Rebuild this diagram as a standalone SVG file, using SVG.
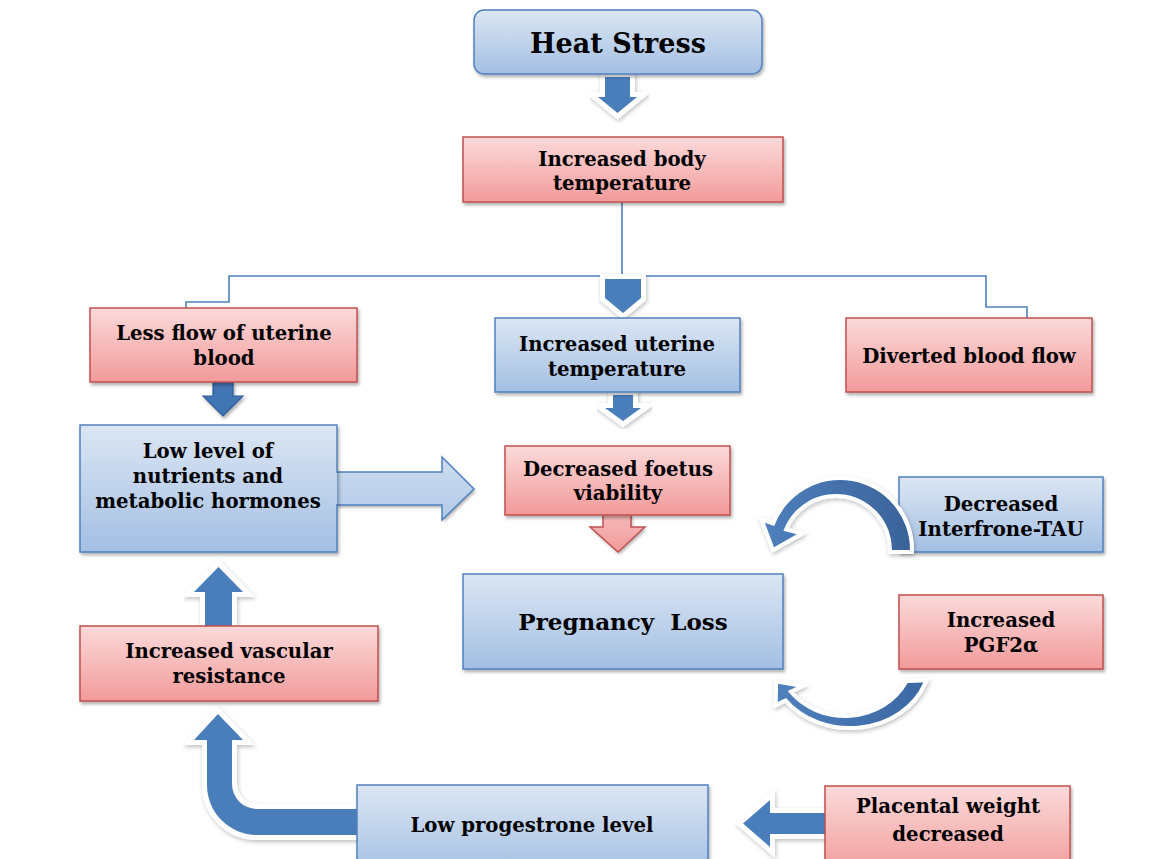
<svg xmlns="http://www.w3.org/2000/svg" xmlns:xlink="http://www.w3.org/1999/xlink" width="1165" height="859" viewBox="0 0 1165 859">
<style>
.t{font-family:"DejaVu Serif","Liberation Serif",serif;font-weight:bold;font-size:19.7px;fill:#000;text-anchor:middle}
.bb{fill:url(#gb);stroke:#4f81bd;stroke-width:1.5}
.pb{fill:url(#gp);stroke:#c0504d;stroke-width:1.5}
.ln{fill:none;stroke:#4f81bd;stroke-width:1.6}
.wo{fill:#fff;stroke:#fff;stroke-width:10;stroke-linejoin:miter;stroke-miterlimit:10;filter:url(#sh2)}
.bf{fill:#4a7ebb}
</style>
<defs>
<linearGradient id="gb" x1="0" y1="0" x2="0" y2="1"><stop offset="0" stop-color="#dce6f3"/><stop offset="1" stop-color="#a3bfe3"/></linearGradient>
<linearGradient id="gp" x1="0" y1="0" x2="0" y2="1"><stop offset="0" stop-color="#fbdada"/><stop offset="1" stop-color="#f29a9a"/></linearGradient>
<linearGradient id="gba" gradientUnits="userSpaceOnUse" x1="0" y1="425" x2="0" y2="552"><stop offset="0" stop-color="#dce6f3"/><stop offset="1" stop-color="#a3bfe3"/></linearGradient>
<linearGradient id="gpa" gradientUnits="userSpaceOnUse" x1="0" y1="515" x2="0" y2="552"><stop offset="0" stop-color="#f6b9b9"/><stop offset="1" stop-color="#f29a9a"/></linearGradient>
<linearGradient id="gc1" gradientUnits="userSpaceOnUse" x1="760" y1="0" x2="912" y2="0"><stop offset="0" stop-color="#4f81bd"/><stop offset="1" stop-color="#3a6299"/></linearGradient>
<linearGradient id="gc2" gradientUnits="userSpaceOnUse" x1="775" y1="0" x2="925" y2="0"><stop offset="0" stop-color="#4f81bd"/><stop offset="1" stop-color="#3c67a2"/></linearGradient>
<filter id="sh" x="-10%" y="-10%" width="125%" height="140%"><feDropShadow dx="1.5" dy="2.5" stdDeviation="1.5" flood-color="#000" flood-opacity="0.3"/></filter>
<filter id="sh2" x="-20%" y="-20%" width="150%" height="150%"><feDropShadow dx="1" dy="2" stdDeviation="2" flood-color="#000" flood-opacity="0.25"/></filter>
<path id="a1" d="M605,77 L630,77 L630,97 L637,97 L617.5,113 L598,97 L605,97 Z"/>
<path id="a2" d="M605,279 L641,279 L641,298 L623,313 L605,298 Z"/>
<path id="a3" d="M613,395 L633,395 L633,408 L641,408 L623,421 L605,408 L613,408 Z"/>
<path id="a4" d="M205,626 L232,626 L232,592 L243,592 L218.5,567 L194,592 L205,592 Z"/>
<path id="a5" d="M357,809 L257,809 A25,25 0 0 1 232,784 L232,740 L243,740 L218,714 L194,740 L207,740 L207,785 A50,50 0 0 0 257,835 L357,835 Z"/>
<path id="a6" d="M825,813 L770,813 L770,800 L743,823.5 L770,847 L770,834 L825,834 Z"/>
<path id="c1" d="M910,550 A70,70 0 0 0 774.2,526.1 L764.8,522.7 L774,547.3 L796.8,534.3 L783.4,530.8 A56,56 0 0 1 892,550 Z"/>
<path id="c2" d="M923.3,682.6 A78,66 0 0 1 786.1,697.9 L777.7,702.1 L778.1,683.7 L796.3,686.9 L787.7,691.1 A70,63 0 0 0 907.7,683 Z"/>
</defs>
<rect width="1165" height="859" fill="#fff"/>

<g id="connectors">
<polyline class="ln" points="622,202 622,276"/>
<polyline class="ln" points="186,308 186,302 229,302 229,276 986,276 986,307 1027,307 1027,318"/>
<use xlink:href="#a1" class="wo"/><use xlink:href="#a1" class="bf"/>
<use xlink:href="#a2" class="wo"/><use xlink:href="#a2" class="bf"/>
<use xlink:href="#a3" class="wo"/><use xlink:href="#a3" class="bf"/>
<use xlink:href="#a4" class="wo"/><use xlink:href="#a4" class="bf"/>
<use xlink:href="#a5" class="wo"/><use xlink:href="#a5" class="bf"/>
<use xlink:href="#a6" class="wo"/><use xlink:href="#a6" class="bf"/>
<path d="M213,382 L233,382 L233,396 L243,396 L223,416 L203,396 L213,396 Z" fill="#4274b3" stroke="#2f5b97" stroke-width="1.2" filter="url(#sh)"/>
<path d="M336,472 L442,472 L442,457 L474,489 L442,520 L442,505 L336,505 Z" fill="url(#gba)" filter="url(#sh)"/>
<polyline points="336,472 442,472 442,457 474,489 442,520 442,505 336,505" fill="none" stroke="#4f81bd" stroke-width="1.5"/>
<path d="M603,514 L631,514 L631,527 L645,527 L618,552 L590,527 L603,527 Z" fill="url(#gpa)" filter="url(#sh)"/>
<polyline points="603,516 603,527 590,527 618,552 645,527 631,527 631,516" fill="none" stroke="#c0504d" stroke-width="1.5"/>
</g>

<g id="heat-stress"><rect class="bb" x="474" y="10" width="288" height="64" rx="10" filter="url(#sh)"/><text class="t" x="618" y="53" style="font-size:27px">Heat Stress</text></g>
<g id="body-temp"><rect class="pb" x="463" y="137" width="320" height="65" filter="url(#sh)"/><text class="t" x="622" y="166">Increased body</text><text class="t" x="622" y="190">temperature</text></g>
<g id="less-flow"><rect class="pb" x="90" y="308" width="267" height="74" filter="url(#sh)"/><text class="t" x="224" y="340">Less flow of uterine</text><text class="t" x="224" y="365">blood</text></g>
<g id="uterine-temp"><rect class="bb" x="495" y="318" width="245" height="74" filter="url(#sh)"/><text class="t" x="617" y="351">Increased uterine</text><text class="t" x="617" y="376">temperature</text></g>
<g id="diverted"><rect class="pb" x="846" y="318" width="246" height="74" filter="url(#sh)"/><text class="t" x="969" y="363">Diverted blood flow</text></g>
<g id="low-level"><rect class="bb" x="80" y="425" width="257" height="127" filter="url(#sh)"/><text class="t" x="208" y="458">Low level of</text><text class="t" x="208" y="483">nutrients and</text><text class="t" x="208" y="508">metabolic hormones</text></g>
<path d="M336,473 L336,504" stroke="url(#gba)" stroke-width="2.5"/>
<g id="foetus"><rect class="pb" x="505" y="446" width="225" height="69" filter="url(#sh)"/><text class="t" x="618" y="476">Decreased foetus</text><text class="t" x="618" y="500">viability</text></g>
<g id="pregnancy-loss"><rect class="bb" x="463" y="574" width="320" height="95" filter="url(#sh)"/><text class="t" x="623" y="630" style="font-size:23px" xml:space="preserve">Pregnancy  Loss</text></g>
<g id="interferon"><rect class="bb" x="899" y="477" width="204" height="75" filter="url(#sh)"/><text class="t" x="1001" y="511">Decreased</text><text class="t" x="1001" y="536">Interfrone-TAU</text></g>
<g id="pgf"><rect class="pb" x="899" y="595" width="204" height="74" filter="url(#sh)"/><text class="t" x="1001" y="627">Increased</text><text class="t" x="1001" y="652">PGF2α</text></g>
<g id="vascular"><rect class="pb" x="80" y="626" width="298" height="75" filter="url(#sh)"/><text class="t" x="229" y="658">Increased vascular</text><text class="t" x="229" y="683">resistance</text></g>
<g id="progesterone"><rect class="bb" x="357" y="785" width="351" height="90" filter="url(#sh)"/><text class="t" x="532" y="832">Low progestrone level</text></g>
<g id="placental"><rect class="pb" x="825" y="786" width="245" height="90" filter="url(#sh)"/><text class="t" x="948" y="813">Placental weight</text><text class="t" x="948" y="841">decreased</text></g>

<g id="cycle-arrows">
<use xlink:href="#c1" class="wo" style="stroke-width:8"/><use xlink:href="#c1" fill="url(#gc1)"/>
<use xlink:href="#c2" class="wo" style="stroke-width:8"/><use xlink:href="#c2" fill="url(#gc2)"/>
</g>
</svg>
